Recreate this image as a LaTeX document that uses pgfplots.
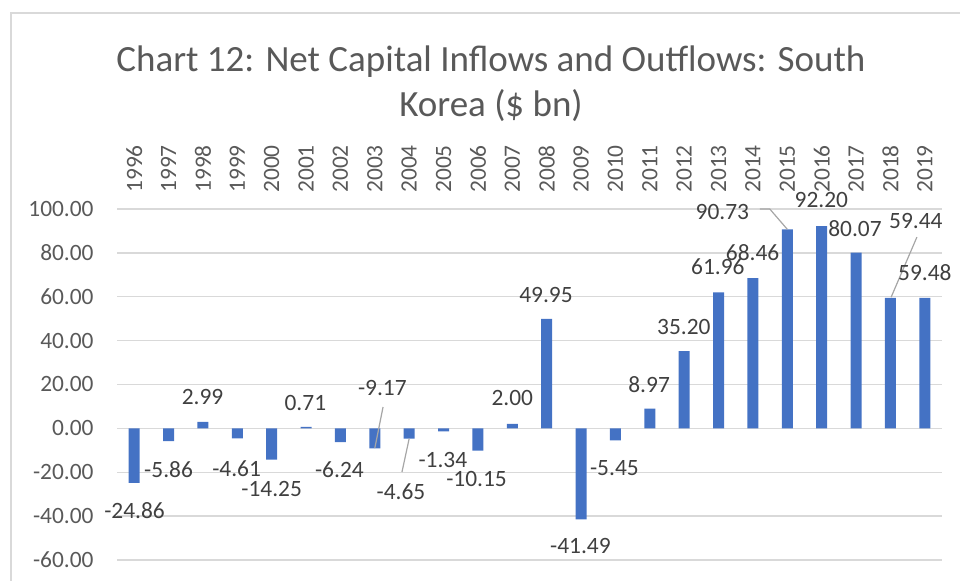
\documentclass[border=0pt]{standalone}
\usepackage{pgfplots}
\pgfplotsset{compat=1.18}
\usepackage{fontspec}
\setmainfont{Carlito}

\definecolor{barblue}{HTML}{4472C4}
\definecolor{gridgray}{HTML}{D9D9D9}
\definecolor{tickgray}{HTML}{595959}
\definecolor{lblgray}{HTML}{404040}
\definecolor{leadgray}{HTML}{A6A6A6}

\begin{document}
\begin{tikzpicture}
    % page is 960x581 px at 0.5pt per px
    \useasboundingbox (0,0) rectangle (480pt,-290.5pt);
    \draw[gridgray, line width=0.75pt] (5.5pt,-290.5pt) -- (5.5pt,-6.5pt) -- (480pt,-6.5pt);
    \node[anchor=base, inner sep=0pt, text=tickgray, font=\fontsize{18.5}{22}\selectfont]
        at (245.5pt,-36pt) {Chart 12: Net Capital Inflows and Outflows: South};
    \node[anchor=base, inner sep=0pt, text=tickgray, font=\fontsize{18.5}{22}\selectfont]
        at (245.5pt,-58.5pt) {Korea (\$ bn)};
    \begin{axis}[
            at={(58.5pt,-280pt)}, anchor=south west,
            scale only axis, width=412.5pt, height=175.5pt,
            xmin=-0.5, xmax=23.5, ymin=-60, ymax=100,
            ytick={-60,-40,...,100},
            xtick={0,...,23},
            xticklabels={1996,1997,1998,1999,2000,2001,2002,2003,2004,2005,2006,2007,
                2008,2009,2010,2011,2012,2013,2014,2015,2016,2017,2018,2019},
            xticklabel pos=right,
            xticklabel shift=8pt,
            xticklabel style={rotate=90, anchor=west, inner sep=0pt},
            yticklabel style={anchor=east, inner sep=0pt},
            yticklabel shift=11.5pt,
            yticklabel={\pgfmathprintnumber[fixed, fixed zerofill, precision=2]{\tick}},
            /pgf/number format/assume math mode=true,
            tick label style={text=tickgray, font=\fontsize{11.7}{14}\selectfont},
            major tick length=0pt,
            axis line style={draw=none},
            ymajorgrids, grid style={gridgray, line width=0.7pt},
            clip=false,
            ybar, bar width=5.5pt,
            every node/.append style={font=\fontsize{11.7}{14}\selectfont},
        ]
        \addplot[fill=barblue, draw=none] coordinates {
            (0,-24.86) (1,-5.86) (2,2.99) (3,-4.61) (4,-14.25) (5,0.71)
            (6,-6.24) (7,-9.17) (8,-4.65) (9,-1.34) (10,-10.15) (11,2.00)
            (12,49.95) (13,-41.49) (14,-5.45) (15,8.97) (16,35.20) (17,61.96)
            (18,68.46) (19,90.73) (20,92.20) (21,80.07) (22,59.44) (23,59.48)};

        % leader lines
        \draw[leadgray, line width=0.6pt] (axis cs:7.24,9.75) -- (axis cs:7.0,-9.0);
        \draw[leadgray, line width=0.6pt] (axis cs:7.79,-19.9) -- (axis cs:8.0,-4.65);
        \draw[leadgray, line width=0.6pt] (axis cs:18.2,100) -- (axis cs:18.49,100) -- (axis cs:19.0,90.73);
        \draw[leadgray, line width=0.6pt] (axis cs:22.77,87.2) -- (axis cs:22.02,59.8);

        % data labels
        \begin{scope}[every node/.style={text=lblgray, inner sep=0pt,
                    font=\fontsize{11.7}{14}\selectfont}]
            \node at (axis cs:0.01,-37.6) {-24.86};
            \node at (axis cs:1.0,-19.0) {-5.86};
            \node at (axis cs:1.99,14.3) {2.99};
            \node at (axis cs:2.98,-18.5) {-4.61};
            \node at (axis cs:4.0,-27.6) {-14.25};
            \node at (axis cs:4.98,11.6) {0.71};
            \node at (axis cs:5.97,-19.0) {-6.24};
            \node at (axis cs:7.22,18.4) {-9.17};
            \node at (axis cs:7.76,-29.0) {-4.65};
            \node at (axis cs:8.98,-14.3) {-1.34};
            \node at (axis cs:9.96,-23.1) {-10.15};
            \node at (axis cs:11.0,13.9) {2.00};
            \node at (axis cs:11.98,60.8) {49.95};
            \node at (axis cs:12.98,-53.6) {-41.49};
            \node at (axis cs:13.97,-18.2) {-5.45};
            \node at (axis cs:14.98,19.8) {8.97};
            \node at (axis cs:15.99,46.4) {35.20};
            \node at (axis cs:16.98,73.5) {61.96};
            \node at (axis cs:17.99,80.1) {68.46};
            \node at (axis cs:17.11,98.8) {90.73};
            \node at (axis cs:19.99,104.0) {92.20};
            \node at (axis cs:20.97,91.0) {80.07};
            \node at (axis cs:22.74,94.6) {59.44};
            \node at (axis cs:23.0,70.9) {59.48};
        \end{scope}
    \end{axis}
\end{tikzpicture}
\end{document}
